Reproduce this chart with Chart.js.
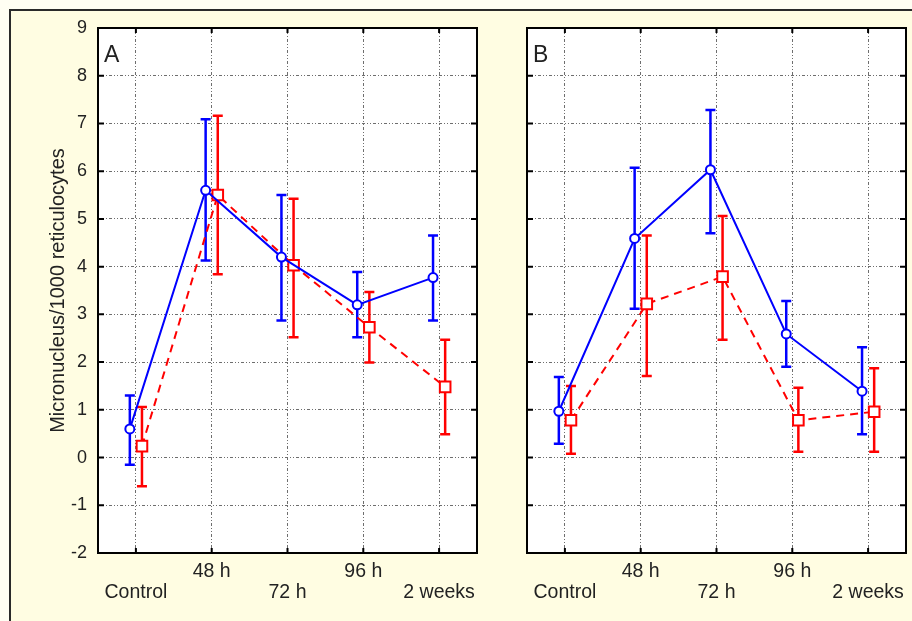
<!DOCTYPE html>
<html>
<head>
<meta charset="utf-8">
<script src="https://cdn.jsdelivr.net/npm/chart.js@4.4.0/dist/chart.umd.min.js"></script>
<style>
  body { margin: 0; width: 912px; height: 621px; overflow: hidden; background: #fffef3; font-family: "Liberation Sans", Arial, sans-serif; }
  #frame { position: absolute; left: 9px; top: 9px; width: 903px; height: 612px; border-left: 2px solid #2a2a2a; border-top: 2px solid #2a2a2a; background: #fffde2; }
  canvas { position: absolute; top: 0; }
  #chartA { left: 0; }
  #chartB { left: 482px; }
</style>
</head>
<body>
<div id="frame"></div>
<canvas id="chartA" width="482" height="621"></canvas>
<canvas id="chartB" width="430" height="621"></canvas>
<script>
const categories = ['Control', '48 h', '72 h', '96 h', '2 weeks'];
const yTicks = [-2, -1, 0, 1, 2, 3, 4, 5, 6, 7, 8, 9];
const yTitle = 'Micronucleus/1000 reticulocytes';

// panel A
const aBlueMean = [0.6, 5.6, 4.2, 3.2, 3.77];
const aBlueLow = [-0.15, 4.13, 2.87, 2.52, 2.87];
const aBlueHigh = [1.3, 7.09, 5.5, 3.89, 4.65];
const aRedMean = [0.24, 5.5, 4.03, 2.73, 1.48];
const aRedLow = [-0.6, 3.84, 2.52, 1.99, 0.49];
const aRedHigh = [1.06, 7.16, 5.42, 3.47, 2.47];

// panel B
const bBlueMean = [0.97, 4.59, 6.03, 2.59, 1.39];
const bBlueLow = [0.29, 3.12, 4.7, 1.9, 0.49];
const bBlueHigh = [1.69, 6.07, 7.28, 3.28, 2.31];
const bRedMean = [0.78, 3.22, 3.79, 0.78, 0.96];
const bRedLow = [0.08, 1.71, 2.47, 0.12, 0.12];
const bRedHigh = [1.5, 4.65, 5.06, 1.46, 1.87];

const BLUE = '#0000ff';
const RED = '#ff0000';
const GRID = '#6e6e6e';
const FONT = '"Liberation Sans", Arial, sans-serif';
const dodge = 0.08;

const whiteArea = {
    id: 'whiteArea',
    beforeDraw(chart) {
        const { ctx, chartArea: a } = chart;
        ctx.save();
        ctx.fillStyle = '#fff';
        ctx.fillRect(a.left, a.top, a.right - a.left, a.bottom - a.top);
        ctx.restore();
    }
};

const errorBars = {
    id: 'errorBars',
    beforeDatasetsDraw(chart) {
        const ctx = chart.ctx;
        const y = chart.scales.y;
        chart.data.datasets.forEach((ds, i) => {
            const meta = chart.getDatasetMeta(i);
            ctx.save();
            ctx.strokeStyle = ds.borderColor;
            ctx.lineWidth = 2.5;
            meta.data.forEach((pt, j) => {
                const top = y.getPixelForValue(ds.errHigh[j]);
                const bot = y.getPixelForValue(ds.errLow[j]);
                ctx.beginPath();
                ctx.moveTo(pt.x, top);
                ctx.lineTo(pt.x, bot);
                ctx.moveTo(pt.x - 5, top);
                ctx.lineTo(pt.x + 5, top);
                ctx.moveTo(pt.x - 5, bot);
                ctx.lineTo(pt.x + 5, bot);
                ctx.stroke();
            });
            ctx.restore();
        });
    }
};

const frame = {
    id: 'frame',
    afterDraw(chart, args, opts) {
        const { ctx, chartArea: a, scales } = chart;
        ctx.save();
        ctx.strokeStyle = '#000';
        ctx.lineWidth = 2;
        ctx.strokeRect(a.left, a.top, a.right - a.left, a.bottom - a.top);
        ctx.beginPath();
        yTicks.slice(1, -1).forEach(v => {
            const py = scales.y.getPixelForValue(v);
            ctx.moveTo(a.left, py);
            ctx.lineTo(a.left + 6, py);
            ctx.moveTo(a.right, py);
            ctx.lineTo(a.right - 6, py);
        });
        categories.forEach((c, i) => {
            const px = scales.x.getPixelForValue(i);
            ctx.moveTo(px, a.top);
            ctx.lineTo(px, a.top + 5);
            ctx.moveTo(px, a.bottom);
            ctx.lineTo(px, a.bottom - 5);
        });
        ctx.stroke();
        ctx.fillStyle = '#222';
        ctx.font = '23px ' + FONT;
        ctx.fillText(opts.letter, a.left + 6, a.top + 34);
        ctx.restore();
    }
};

function makePanel(id, letter, blue, red, showY, leftWidth, rightPad) {
    const toPoints = (vals, dx) => vals.map((v, i) => ({ x: i + dx, y: v }));
    return new Chart(document.getElementById(id), {
        type: 'line',
        data: {
            datasets: [{
                data: toPoints(blue.mean, -dodge),
                errLow: blue.low,
                errHigh: blue.high,
                borderColor: BLUE,
                borderWidth: 2,
                pointStyle: 'circle',
                pointRadius: 4.5,
                pointBorderWidth: 2,
                pointBackgroundColor: '#fff',
                pointBorderColor: BLUE,
                tension: 0
            }, {
                data: toPoints(red.mean, dodge),
                errLow: red.low,
                errHigh: red.high,
                borderColor: RED,
                borderWidth: 2,
                borderDash: [8, 6],
                pointStyle: 'rect',
                pointRadius: 7.5,
                pointBorderWidth: 2,
                pointBackgroundColor: '#fff',
                pointBorderColor: RED,
                tension: 0
            }]
        },
        options: {
            responsive: false,
            animation: false,
            layout: { autoPadding: false, padding: { left: 0, right: rightPad, top: 28, bottom: 0 } },
            plugins: {
                legend: { display: false },
                tooltip: { enabled: false },
                frame: { letter: letter }
            },
            scales: {
                x: {
                    type: 'linear',
                    min: -0.5,
                    max: 4.5,
                    afterBuildTicks: scale => { scale.ticks = categories.map((c, i) => ({ value: i })); },
                    afterFit: scale => {
                        scale.height = 68;
                        scale.paddingLeft = 0;
                        scale.paddingRight = 0;
                    },
                    grid: { color: GRID, lineWidth: 1, drawTicks: true, tickLength: 8, tickColor: 'rgba(0,0,0,0)' },
                    border: { display: false, dash: [3, 2, 1, 2, 1, 2] },
                    ticks: {
                        padding: 0,
                        maxRotation: 0,
                        autoSkip: false,
                        color: '#222',
                        font: { family: FONT, size: 19.5, lineHeight: 1.08 },
                        callback: v => (v % 2 === 1 ? categories[v] : ['', categories[v]])
                    }
                },
                y: {
                    min: -2,
                    max: 9,
                    afterBuildTicks: scale => { scale.ticks = yTicks.map(v => ({ value: v })); },
                    afterFit: scale => {
                        scale.width = leftWidth;
                        scale.paddingTop = 0;
                        scale.paddingBottom = 0;
                    },
                    grid: {
                        color: ctx => (ctx.tick && (ctx.tick.value === -2 || ctx.tick.value === 9) ? 'rgba(0,0,0,0)' : GRID),
                        lineWidth: 1,
                        drawTicks: false
                    },
                    border: { display: false, dash: [3, 2, 1, 2, 1, 2] },
                    title: {
                        display: showY,
                        text: yTitle,
                        color: '#222',
                        padding: { top: 46, bottom: 0 },
                        font: { family: FONT, size: 20 }
                    },
                    ticks: {
                        display: showY,
                        padding: 11,
                        color: '#222',
                        font: { family: FONT, size: 18 }
                    }
                }
            }
        },
        plugins: [whiteArea, errorBars, frame]
    });
}

makePanel('chartA', 'A',
    { mean: aBlueMean, low: aBlueLow, high: aBlueHigh },
    { mean: aRedMean, low: aRedLow, high: aRedHigh },
    true, 98, 5);

makePanel('chartB', 'B',
    { mean: bBlueMean, low: bBlueLow, high: bBlueHigh },
    { mean: bRedMean, low: bRedLow, high: bRedHigh },
    false, 45, 6);
</script>
</body>
</html>
